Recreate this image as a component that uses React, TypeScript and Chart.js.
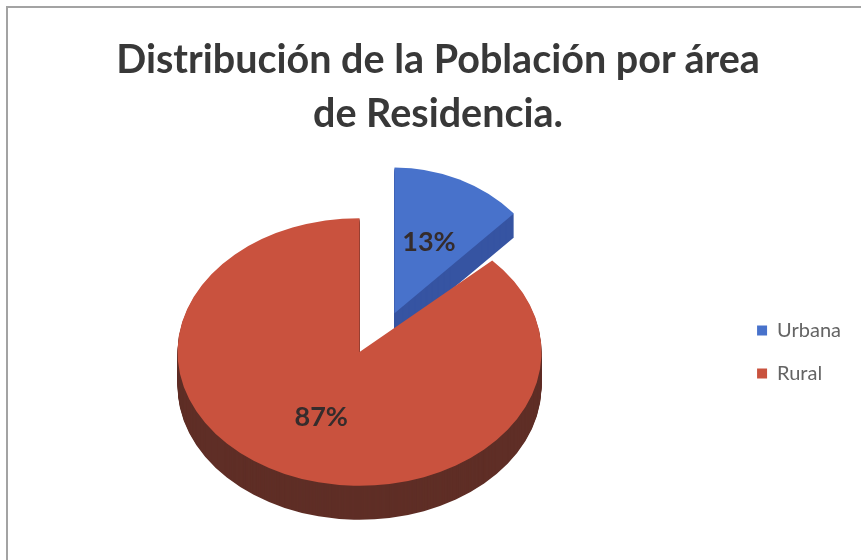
import React, { useEffect, useRef } from "react";
import { Chart, registerables } from "chart.js";

Chart.register(...registerables);

const TITLE_LINES = ["Distribución de la Población por área", "de Residencia."];
const CATEGORIES = ["Urbana", "Rural"];
const VALUES = [13, 87];
const PERCENT_LABELS = ["13%", "87%"];
const TOP_COLORS = ["#4872cb", "#c9523e"];
const SIDE_COLORS = ["#3654a2", "#5f2e26"];
const OFFSETS = [88, 0];
const TILTS = [0.89, 0.735];
const RADIUS_SCALES = [0.9, 1];
const DEPTHS = [24, 34];

const pie3d = {
  id: "pie3d",
  beforeDatasetsDraw(chart: any, _args: any, opts: any) {
    const ctx = chart.ctx;
    const meta = chart.getDatasetMeta(0);
    meta.data.forEach((arc: any, i: number) => {
      const p = arc.getProps(["x", "y", "startAngle", "endAngle", "outerRadius"], true);
      const off = arc.options.offset || 0;
      const mid = (p.startAngle + p.endAngle) / 2;
      const cx = p.x + Math.cos(mid) * off;
      const cy = p.y + Math.sin(mid) * off * opts.offsetTilt;
      const tilt = opts.tilts[i];
      const R = p.outerRadius * opts.radiusScales[i];
      const path = (dy: number) => {
        ctx.beginPath();
        ctx.moveTo(cx, cy + dy);
        ctx.ellipse(cx, cy + dy, R, R * tilt, 0, p.startAngle, p.endAngle);
        ctx.closePath();
      };
      ctx.save();
      ctx.fillStyle = opts.sideColors[i];
      for (let d = opts.depths[i]; d > 0; d--) {
        path(d);
        ctx.fill();
      }
      ctx.fillStyle = opts.topColors[i];
      path(0);
      ctx.fill();
      ctx.restore();
    });
    return false;
  },
  afterDraw(chart: any, _args: any, opts: any) {
    const ctx = chart.ctx;
    const meta = chart.getDatasetMeta(0);
    ctx.save();
    ctx.font = opts.labelFont;
    ctx.fillStyle = opts.labelColor;
    ctx.textAlign = "center";
    ctx.textBaseline = "middle";
    meta.data.forEach((arc: any, i: number) => {
      const p = arc.getProps(["x", "y", "startAngle", "endAngle", "outerRadius"], true);
      const off = arc.options.offset || 0;
      const mid = (p.startAngle + p.endAngle) / 2;
      const cx = p.x + Math.cos(mid) * off;
      const cy = p.y + Math.sin(mid) * off * opts.offsetTilt;
      const r = p.outerRadius * opts.radiusScales[i] * opts.labelRadius;
      ctx.fillText(opts.labels[i], cx + Math.cos(mid) * r, cy + Math.sin(mid) * r * opts.tilts[i]);
    });
    ctx.restore();
  },
};

export default function App() {
  const ref = useRef<HTMLCanvasElement>(null);
  useEffect(() => {
    document.body.style.margin = "0";
    const chart = new Chart(ref.current as HTMLCanvasElement, {
      type: "pie",
      data: {
        labels: CATEGORIES,
        datasets: [
          {
            data: VALUES,
            backgroundColor: TOP_COLORS,
            borderWidth: 0,
            offset: OFFSETS,
            radius: 182,
          } as any,
        ],
      },
      options: {
        animation: false,
        responsive: false,
        events: [],
        layout: { padding: { left: 0, right: 10, top: 149, bottom: 5 } },
        plugins: {
          title: { display: false },
          legend: {
            position: "right",
            fullSize: false,
            labels: {
              boxWidth: 10,
              boxHeight: 10,
              padding: 23,
              color: "#646464",
              font: { family: "Lato", size: 20 },
            },
          },
          tooltip: { enabled: false },
          pie3d: {
            depths: DEPTHS,
            offsetTilt: 0.48,
            tilts: TILTS,
            radiusScales: RADIUS_SCALES,
            topColors: TOP_COLORS,
            sideColors: SIDE_COLORS,
            labels: PERCENT_LABELS,
            labelRadius: 0.53,
            labelFont: "bold 27px Lato",
            labelColor: "#352c2c",
          },
        } as any,
      },
      plugins: [pie3d as any],
    });
    return () => chart.destroy();
  }, []);
  return (
    <div style={{ position: "fixed", left: 0, top: 0, width: 861, height: 560, overflow: "hidden", background: "#fff" }}>
      <canvas
        ref={ref}
        width={876}
        height={560}
        style={{ display: "block", position: "absolute", left: -15, top: 0 }}
      />
      <div
        style={{
          position: "absolute",
          left: 0,
          top: 31,
          width: 876,
          textAlign: "center",
          fontFamily: "Lato",
          fontWeight: "bold",
          fontSize: 39.5,
          lineHeight: "54px",
          color: "#383838",
        }}
      >
        {TITLE_LINES.map((t) => (
          <div key={t}>{t}</div>
        ))}
      </div>
      <div
        style={{
          position: "absolute",
          left: 6,
          top: 6,
          right: -20,
          bottom: -20,
          border: "2px solid #a3a3a3",
          pointerEvents: "none",
        }}
      />
    </div>
  );
}
